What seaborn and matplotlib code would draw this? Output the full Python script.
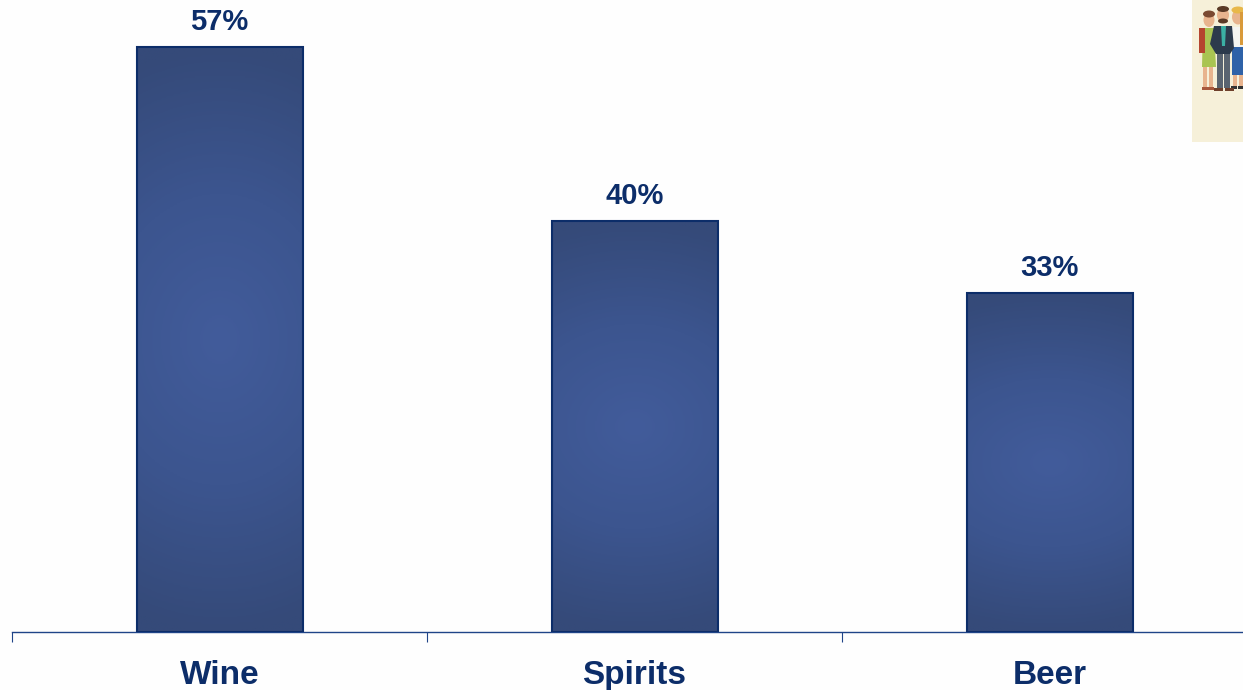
import numpy as np
import pandas as pd
import matplotlib
matplotlib.use('Agg')
import matplotlib.pyplot as plt
from matplotlib.colors import LinearSegmentedColormap
from matplotlib.patches import Rectangle, Ellipse, Polygon
import seaborn as sns

categories = ['Wine', 'Spirits', 'Beer']
values = [57, 40, 33]

navy = '#0c2d69'
df = pd.DataFrame({'drink': categories, 'share': values})

sns.set_style('white')
plt.rcParams['font.family'] = ['Liberation Sans', 'DejaVu Sans']

W, H = 1243, 690
fig = plt.figure(figsize=(W / 100, H / 100), dpi=100, facecolor='#fefefe')
ax = fig.add_axes([12 / W, 58 / H, 1245 / W, 632 / H], facecolor='none')

p = sns.barplot(data=df, x='drink', y='share', width=0.4, color='#3d5690',
                saturation=1, edgecolor=navy, linewidth=1.5, ax=ax)
ax.set_xlim(-0.5, 2.5)
ax.set_ylim(0, 61.58)

# radial fill inside each bar, clipped to the bar
cmap = LinearSegmentedColormap.from_list('bar', ['#425c9b', '#3c558f', '#354a79'])
for bar in p.patches:
    x0, y0, w, h = bar.get_x(), bar.get_y(), bar.get_width(), bar.get_height()
    yy, xx = np.mgrid[-1:1:300j, -1:1:100j]
    r = np.sqrt(yy ** 2 + (0.35 * xx) ** 2)
    im = ax.imshow(r, extent=(x0, x0 + w, y0, y0 + h), origin='lower', cmap=cmap,
                   vmin=0, vmax=1, aspect='auto', zorder=bar.get_zorder() - 0.5)
    bar.set_facecolor('none')
    bar.set_zorder(3)
ax.set_xlim(-0.5, 2.5)
ax.set_ylim(0, 61.58)

for bar, v in zip(p.patches, values):
    ax.annotate(f'{v}%', (bar.get_x() + bar.get_width() / 2, v), xytext=(0, 8),
                textcoords='offset points', ha='center', va='bottom',
                fontsize=21, fontweight='bold', color=navy, clip_on=False)

sns.despine(ax=ax, left=True, top=True, right=True)
ax.spines['bottom'].set_color('#1f4488')
ax.spines['bottom'].set_linewidth(1.0)
ax.set_xlabel('')
ax.set_ylabel('')
ax.set_yticks([])
ax.set_xticks(range(len(categories)), categories)
ax.tick_params(axis='x', which='major', length=0, pad=20.5, labelsize=24, labelcolor=navy)
for t in ax.get_xticklabels():
    t.set_fontweight('bold')
ax.set_xticks([-0.5, 0.5, 1.5, 2.5], minor=True)
ax.tick_params(axis='x', which='minor', bottom=True, length=7.5, width=0.8, color='#1f4488')

# little people picture, top right corner (pixel coordinates)
pic = fig.add_axes([0, 0, 1, 1], facecolor='none', zorder=5)
pic.set_xlim(0, W)
pic.set_ylim(H, 0)
pic.axis('off')
pic.add_patch(Rectangle((1192, 0), 51, 142, color='#f6f0d9', lw=0))
# left woman
pic.add_patch(Rectangle((1203.5, 60), 4, 28, color='#e8b48e', lw=0))
pic.add_patch(Rectangle((1209, 60), 4, 28, color='#e8b48e', lw=0))
pic.add_patch(Rectangle((1202, 87), 6, 3, color='#a8583c', lw=0))
pic.add_patch(Rectangle((1208, 87), 6, 3, color='#a8583c', lw=0))
pic.add_patch(Polygon([(1203, 28), (1214, 28), (1216, 67), (1202, 67)], color='#a9c452', lw=0))
pic.add_patch(Rectangle((1199, 28), 6, 25, color='#b5452f', lw=0))
pic.add_patch(Ellipse((1209, 20), 11, 14, color='#e8b48e', lw=0))
pic.add_patch(Ellipse((1209, 14), 12, 7, color='#7a4a32', lw=0))
# third woman
pic.add_patch(Rectangle((1233, 70), 4, 18, color='#e8b48e', lw=0))
pic.add_patch(Rectangle((1239, 70), 4, 18, color='#e8b48e', lw=0))
pic.add_patch(Rectangle((1231, 86), 6, 3, color='#333333', lw=0))
pic.add_patch(Rectangle((1238, 86), 5, 3, color='#333333', lw=0))
pic.add_patch(Polygon([(1232, 45), (1243, 45), (1243, 75), (1232, 75)], color='#2f62a8', lw=0))
pic.add_patch(Rectangle((1232, 27), 11, 20, color='#f4f4f0', lw=0))
pic.add_patch(Ellipse((1238, 17), 12, 15, color='#e8b48e', lw=0))
pic.add_patch(Ellipse((1238, 10), 13, 7, color='#e8b84a', lw=0))
pic.add_patch(Rectangle((1240.5, 12), 2.5, 33, color='#d99a3a', lw=0))
# man
pic.add_patch(Rectangle((1217, 52), 6, 36, color='#5a6470', lw=0))
pic.add_patch(Rectangle((1224, 52), 6, 36, color='#5a6470', lw=0))
pic.add_patch(Rectangle((1214, 88), 9, 3, color='#6e3f2a', lw=0))
pic.add_patch(Rectangle((1225, 88), 9, 3, color='#6e3f2a', lw=0))
pic.add_patch(Polygon([(1214, 26), (1232, 26), (1234, 48), (1230, 54), (1216, 54), (1210, 44)],
                      color='#2c3a4c', lw=0))
pic.add_patch(Polygon([(1221, 26), (1226, 26), (1225, 46), (1222, 46)], color='#3bb0a4', lw=0))
pic.add_patch(Ellipse((1223, 15), 12, 15, color='#e8b48e', lw=0))
pic.add_patch(Ellipse((1223, 9), 12, 6, color='#5a3a26', lw=0))
pic.add_patch(Ellipse((1223, 21), 10, 5, color='#5a3a26', lw=0))

plt.savefig('out.png', dpi=100, facecolor=fig.get_facecolor())
